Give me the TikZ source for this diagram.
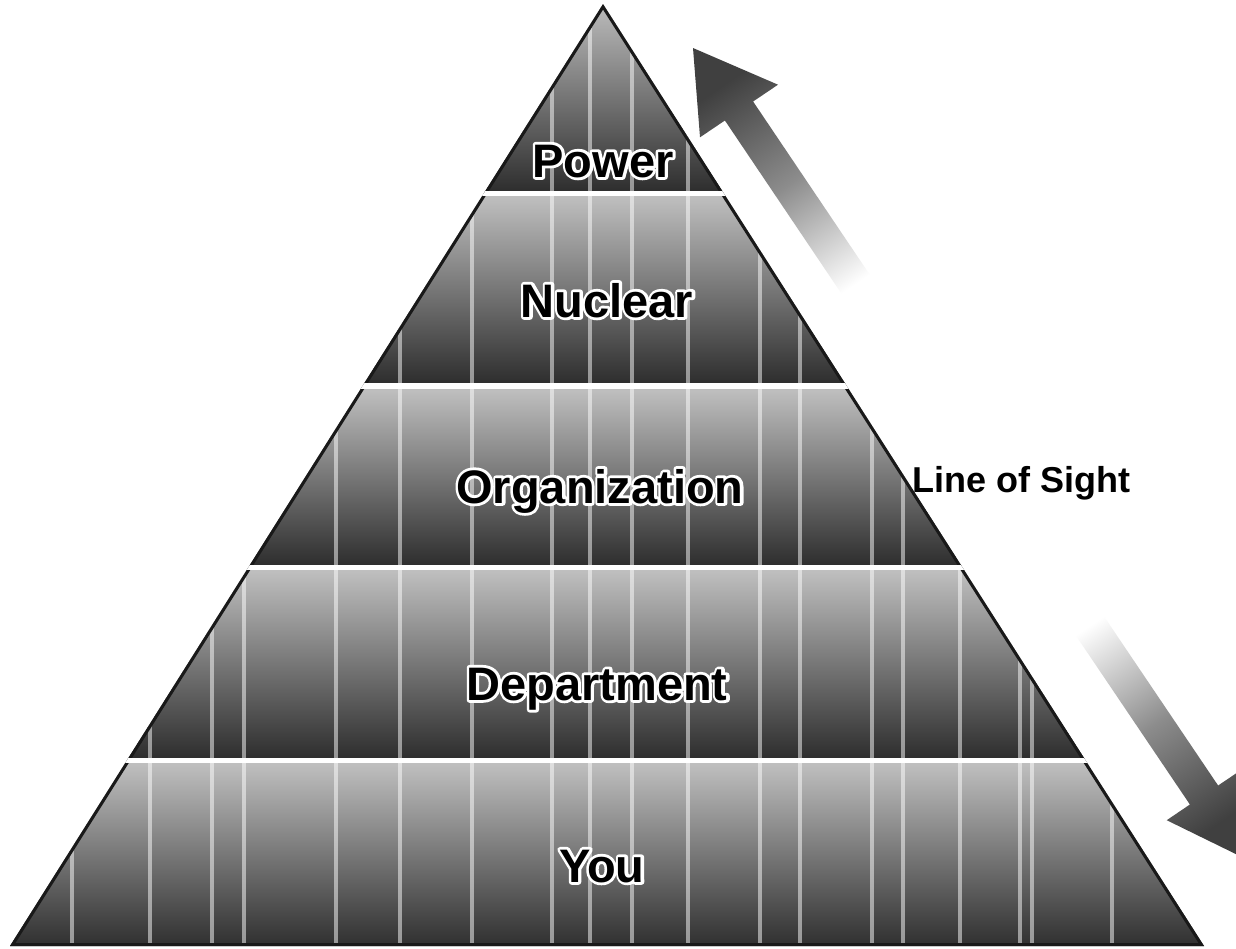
\documentclass[tikz,border=0pt]{standalone}
\usepackage{fontspec}
\setmainfont{Liberation Sans}
\tikzset{
  lbl/.style={font=\bfseries\fontsize{23.5}{28}\selectfont, inner sep=0pt, anchor=base, text=black},
  loslabel/.style={font=\bfseries\fontsize{18}{22}\selectfont, inner sep=0pt, anchor=base, text=black},
  band/.style={top color=black!25, bottom color=black!82},
  gapbar/.style={fill=white, draw=none},
  streak/.style={white, line width=1.6pt, opacity=0.5},
  edge/.style={draw=black!90, line width=3pt, line join=miter},
  uparrow/.style={top color=black!75, bottom color=white, middle color=black!45, shading angle=34},
  downarrow/.style={top color=black!75, bottom color=white, middle color=black!45, shading angle=214},
}
% black text with a thin white outline (stroke-only copy under the normal text)
\newcommand{\haloed}[1]{\leavevmode\rlap{\special{pdf:literal direct 1 1 1 RG 2.8 w 1 j 1 Tr}#1\special{pdf:literal direct 0 Tr}}#1}

\begin{document}
\begin{tikzpicture}[x=0.5pt,y=-0.5pt]
\clip (0,0) rectangle (1236,948);
\fill[white] (0,0) rectangle (1236,948);

\coordinate (apex) at (603,4);
\coordinate (bl) at (10,946);
\coordinate (br) at (1204,946);

% pyramid
\begin{scope}
  \clip (apex) -- (br) -- (bl) -- cycle;
  \path[band] (0,0) rectangle (1236,191);
  \path[band] (0,196) rectangle (1236,383);
  \path[band] (0,389) rectangle (1236,565);
  \path[band] (0,570) rectangle (1236,758);
  \path[band] (0,763) rectangle (1236,948);
  \foreach \x in {72,150,212,244,336,400,472,552,590,632,688,760,800,872,903,960,1020,1032,1112}
    {\draw[streak] (\x,0) -- (\x,948);}
  \path[edge] (apex) -- (br) -- (bl) -- cycle;
  \fill[gapbar] (0,191) rectangle (1236,196);
  \fill[gapbar] (0,383) rectangle (1236,389);
  \fill[gapbar] (0,565) rectangle (1236,570);
  \fill[gapbar] (0,758) rectangle (1236,763);
\end{scope}

% up arrow
\coordinate (t1) at (693,48);
\coordinate (c1a) at (778,84.7);
\coordinate (s1a) at (753.1,101.5);
\coordinate (e1a) at (887.1,300.5);
\coordinate (e1b) at (858.9,319.5);
\coordinate (s1b) at (724.9,120.5);
\coordinate (c1b) at (700,137.3);
\path[uparrow] (t1) -- (c1a) -- (s1a) -- (e1a) -- (e1b) -- (s1b) -- (c1b) -- cycle;

% down arrow
\coordinate (t2) at (1248,860);
\coordinate (c2a) at (1241.4,769.8);
\coordinate (s2a) at (1218.1,785.5);
\coordinate (e2a) at (1086.5,590.5);
\coordinate (e2b) at (1058.3,609.5);
\coordinate (s2b) at (1189.9,804.5);
\coordinate (c2b) at (1166.7,820.2);
\path[downarrow] (t2) -- (c2a) -- (s2a) -- (e2a) -- (e2b) -- (s2b) -- (c2b) -- cycle;

% labels
\node[lbl] (power) at (603,177) {\haloed{Power}};
\node[lbl] (nuclear) at (607,317) {\haloed{Nuclear}};
\node[lbl] (organization) at (600,503) {\haloed{Organization}};
\node[lbl] (department) at (597,700) {\haloed{Department}};
\node[lbl] (you) at (602,882) {\haloed{You}};
\node[loslabel] (los) at (1021,492) {Line of Sight};
\end{tikzpicture}
\end{document}
